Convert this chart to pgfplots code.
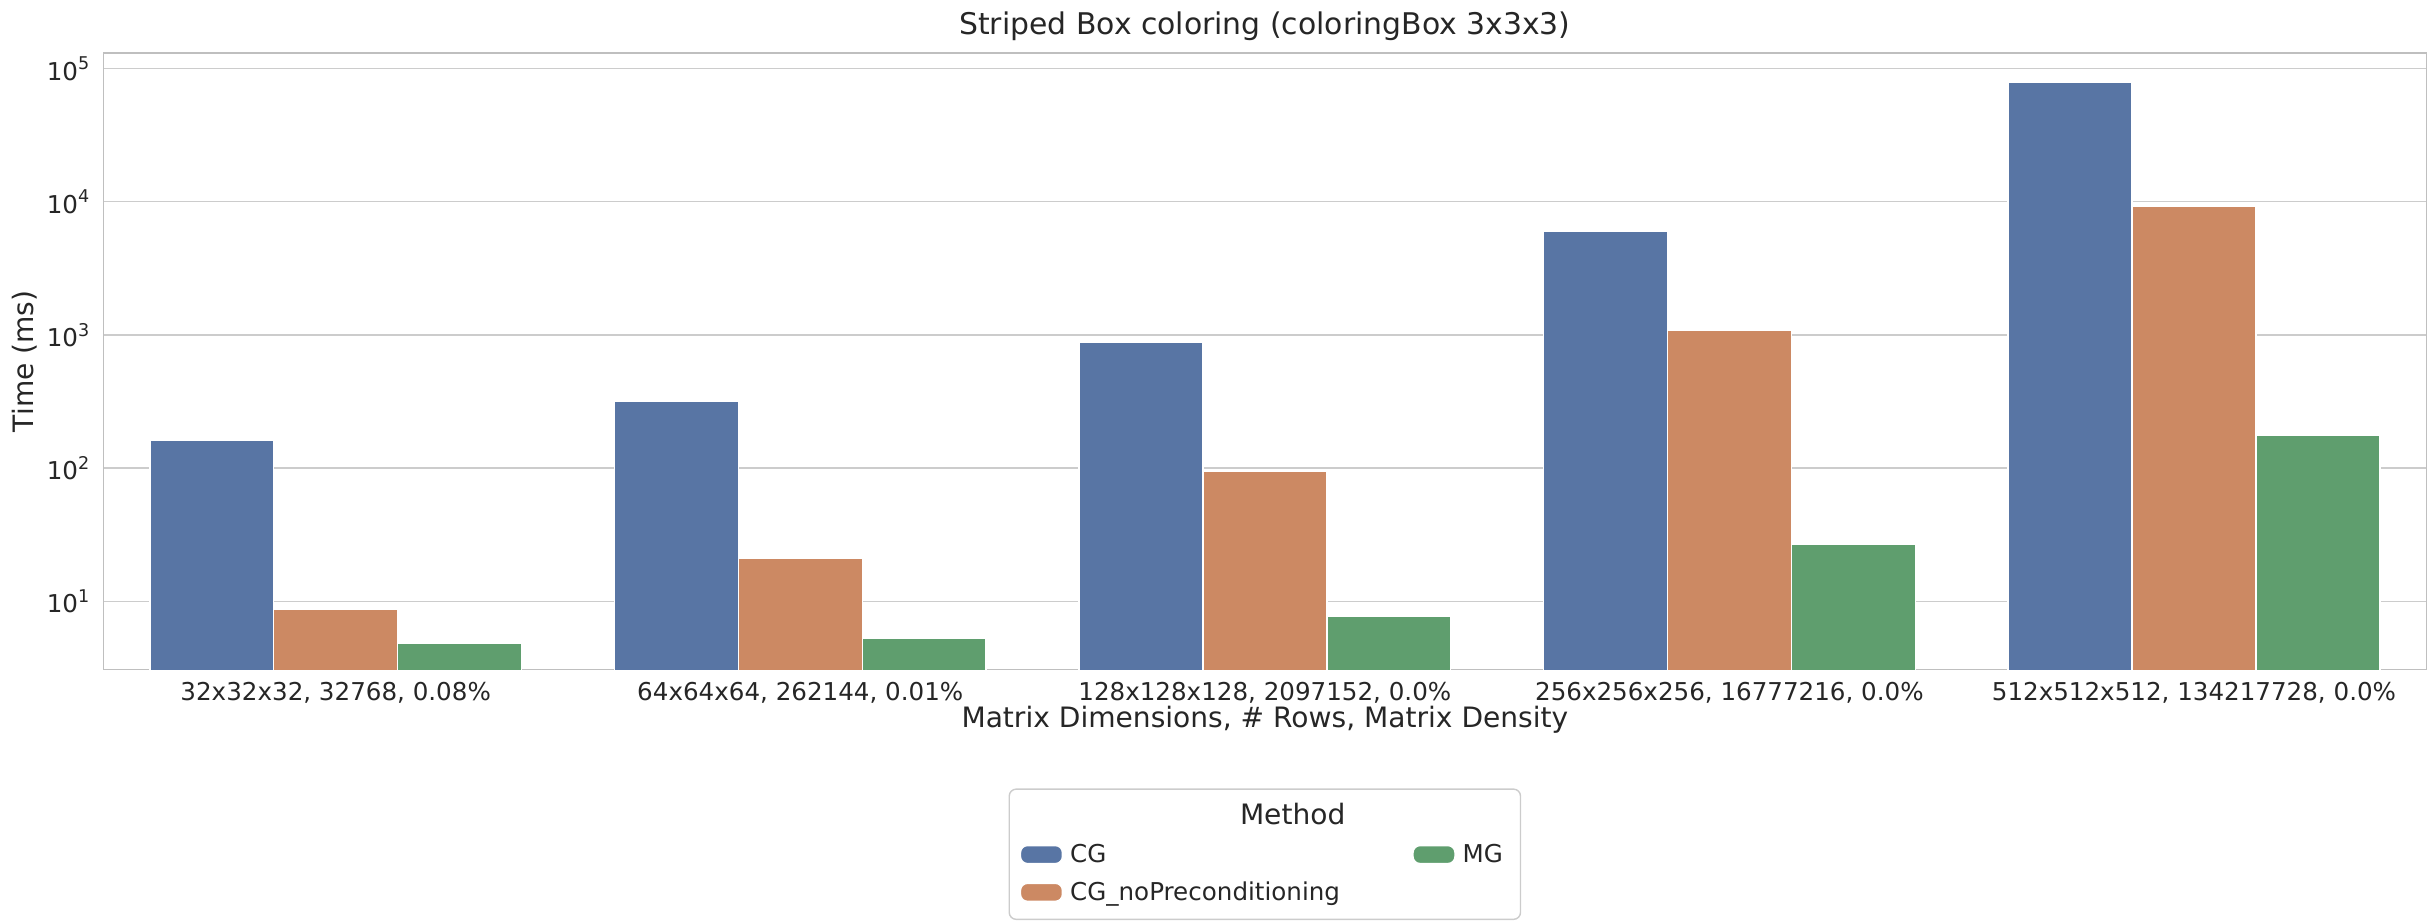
\documentclass[border=0pt]{standalone}
\usepackage{pgfplots}
\pgfplotsset{compat=1.18}
\usepackage{fontspec}
\setmainfont{DejaVu Sans}
\definecolor{cb}{HTML}{5875A4}
\definecolor{co}{HTML}{CC8963}
\definecolor{cg}{HTML}{5F9E6E}
\begin{document}
\begin{tikzpicture}
\begin{axis}[
  scale only axis, width=23.25cm, height=6.17cm,
  ymode=log, ymin=3.08, ymax=1.31e5,
  xmin=-0.5, xmax=4.5,
  xtick={0,1,2,3,4},
  xticklabels={{32x32x32, 32768, 0.08\%},{64x64x64, 262144, 0.01\%},{128x128x128, 2097152, 0.0\%},{256x256x256, 16777216, 0.0\%},{512x512x512, 134217728, 0.0\%}},
  ytick={10,100,1000,10000,100000},
  yticklabels={10\textsuperscript{1},10\textsuperscript{2},10\textsuperscript{3},10\textsuperscript{4},10\textsuperscript{5}},
  tick label style={font=\fontsize{7}{8.5}\selectfont, text=black!85},
  label style={font=\fontsize{8}{9.5}\selectfont, text=black!85},
  title style={font=\fontsize{8.5}{10}\selectfont, text=black!85, yshift=-6pt},
  title={Striped Box coloring (coloringBox 3x3x3)},
  xlabel={Matrix Dimensions, \# Rows, Matrix Density},
  ylabel={Time (ms)},
  xlabel style={yshift=6pt}, ylabel style={yshift=-4pt},
  ymajorgrids, grid style={black!20},
  axis line style={black!25},
  major tick length=0pt, minor tick length=0pt,
  ybar, bar width=0.2667,
  legend style={at={(0.5,-0.193)}, anchor=north, draw=black!20, rounded corners=2pt,
    font=\fontsize{7}{8.5}\selectfont, text=black!85,
    /tikz/every even column/.append style={column sep=0.6cm}},
  legend columns=2, legend cell align=left,
  legend image code/.code={\fill[#1] (0cm,-0.08cm) rectangle (0.42cm,0.1cm);},
]
\addlegendimage{empty legend}
\addlegendimage{empty legend}
\addplot[fill=cb, draw=white, bar shift=-0.2667] coordinates {(0,162) (1,316) (2,875) (3,6010) (4,78500)};
\addplot[fill=cg, draw=white, bar shift=0.2667] coordinates {(0,4.85) (1,5.26) (2,7.66) (3,26.9) (4,175)};
\addplot[fill=co, draw=white, bar shift=0] coordinates {(0,8.7) (1,21.2) (2,95) (3,1084) (4,9230)};
\legend{\hspace{1.7cm}{\fontsize{8}{9.5}\selectfont Method},\mbox{},CG,MG,CG\_noPreconditioning}
\end{axis}
\end{tikzpicture}
\end{document}
